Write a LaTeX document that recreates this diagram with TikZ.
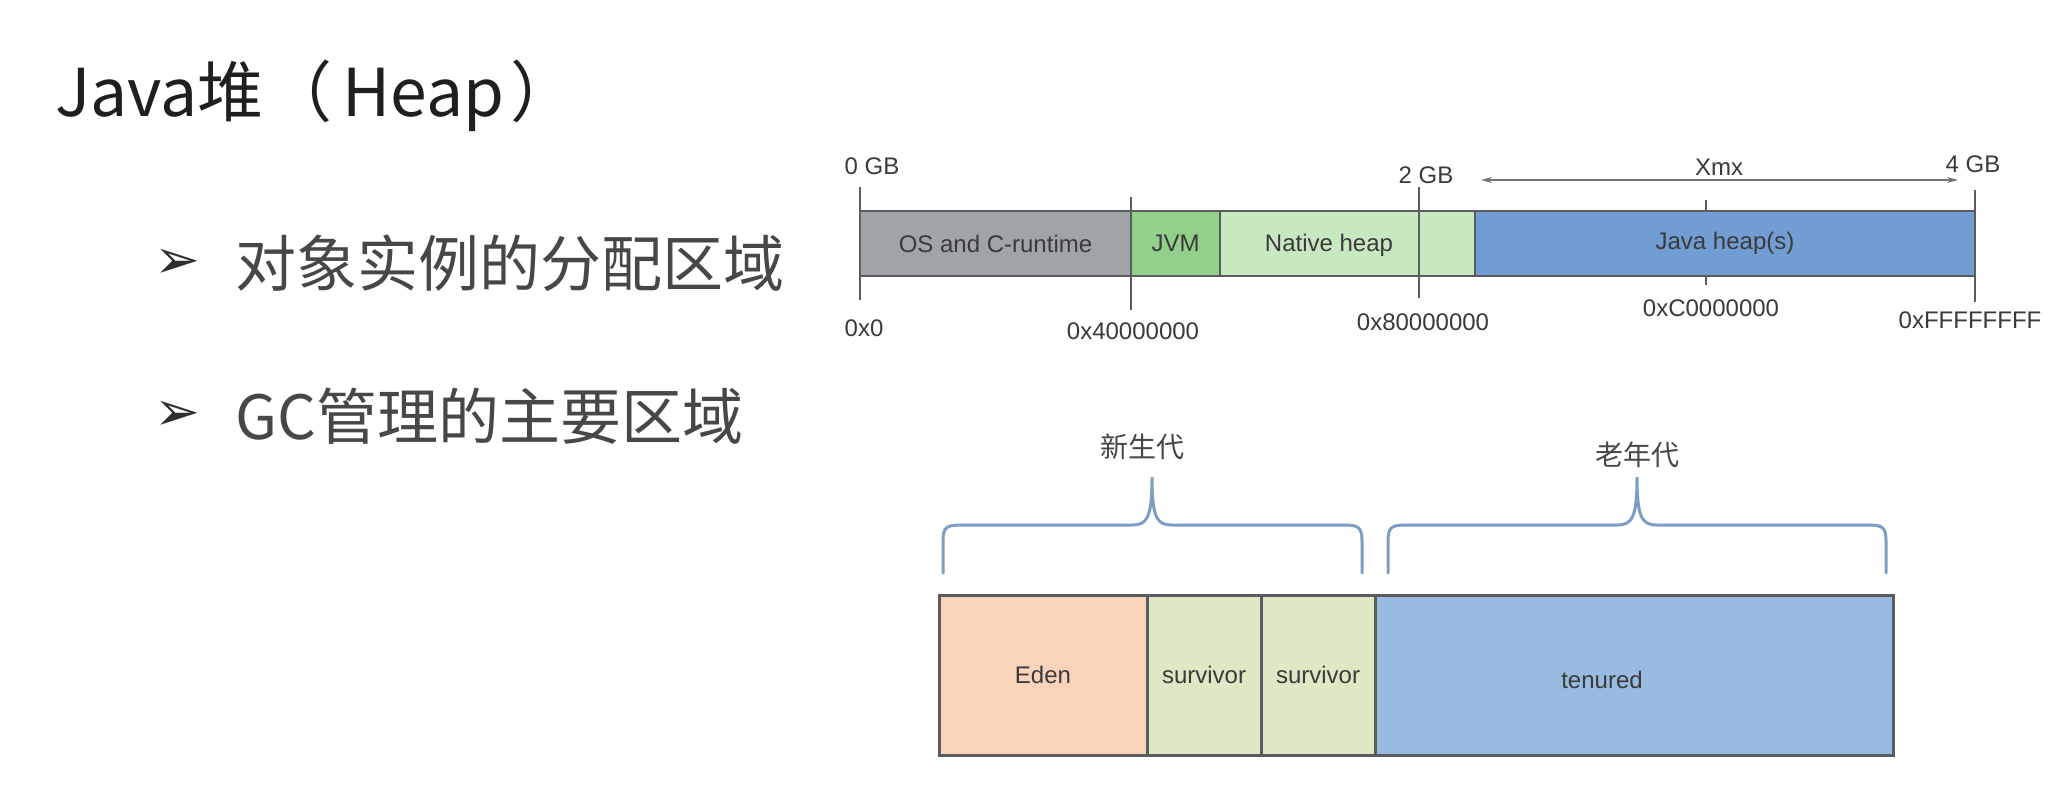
\documentclass[tikz,border=0pt]{standalone}
\usepackage{fontspec}
\setmainfont{Liberation Sans}
\newfontfamily\cjk{Noto Sans CJK SC}
\newfontfamily\simboli{DejaVu Sans}
\usetikzlibrary{arrows.meta}

\definecolor{grigioos}{HTML}{A0A3A8}
\definecolor{verdejvm}{HTML}{93D08C}
\definecolor{verdenativo}{HTML}{C8E8C2}
\definecolor{bluejava}{HTML}{729DD2}
\definecolor{pesca}{HTML}{F9D3BA}
\definecolor{survverde}{HTML}{DEE8C4}
\definecolor{azzurro}{HTML}{98BBE1}
\definecolor{graffablu}{HTML}{7E9DC2}
\definecolor{bordo}{HTML}{5A5C60}
\definecolor{testo}{HTML}{3A3A3A}

\begin{document}
\begin{tikzpicture}[x=1pt, y=-1pt]
    % Definizione stili
    \tikzstyle{titolo}=[inner sep=0pt, text=black!88, font=\cjk\fontsize{66}{80}\selectfont]
    \tikzstyle{voce}=[inner sep=0pt, text=black!72, font=\cjk\fontsize{61}{72}\selectfont]
    \tikzstyle{punto}=[inner sep=0pt, text=black!82, font=\simboli\fontsize{55}{60}\selectfont]
    \tikzstyle{segmento}=[draw=bordo, line width=2pt, inner sep=0pt, minimum height=65pt, text=testo, font=\fontsize{24}{28}\selectfont]
    \tikzstyle{regione}=[draw=bordo, line width=3pt, inner sep=0pt, minimum height=160pt, text=testo, font=\fontsize{24}{28}\selectfont]
    \tikzstyle{etichetta}=[inner sep=0pt, text=testo, font=\fontsize{24}{28}\selectfont]
    \tikzstyle{gen}=[inner sep=0pt, text=black!72, font=\cjk\fontsize{28}{32}\selectfont]
    \tikzstyle{tacca}=[draw=bordo, line width=2pt]
    \tikzstyle{freccia}=[<->, >={Stealth[length=11pt, width=6pt]}, draw=black!55, line width=1.5pt]
    \tikzstyle{graffa}=[draw=graffablu, line width=3pt, line cap=round]

    % Sfondo
    \fill[white] (0,0) rectangle (2050,787);
    \useasboundingbox (0,0) rectangle (2050,787);

    % Titolo ed elenco
    \node[titolo, anchor=base west] (titolo) at (55,116) {Java堆\hspace{3pt}（\hspace{10pt}Heap\hspace{6pt}）};
    \node[punto] (punto1) at (178,264) {➢};
    \node[voce, anchor=west] (voce1) at (235,263) {对象实例的分配区域};
    \node[punto] (punto2) at (178,416) {➢};
    \node[voce, anchor=west] (voce2) at (235,416) {GC管理的主要区域};

    % Tacca centrale (sotto la barra)
    \draw[tacca] (1706,200) -- (1706,285);

    % Barra della memoria
    \node[segmento, fill=grigioos, minimum width=271pt] (os) at (995.5,243.5) {OS and C-runtime};
    \node[segmento, fill=verdejvm, minimum width=89pt] (jvm) at (1175.5,243.5) {JVM};
    \node[segmento, fill=verdenativo, minimum width=255pt] (native) at (1347.5,243.5) {};
    \node[etichetta] (native_txt) at (1329,245) {Native heap};
    \node[segmento, fill=bluejava, minimum width=500pt] (javaheap) at (1725,243.5) {Java heap(s)};

    % Tacche
    \draw[tacca] (860,187) -- (860,300);
    \draw[tacca] (1131,197) -- (1131,310);
    \draw[tacca] (1419,187) -- (1419,298);
    \draw[tacca] (1975,190) -- (1975,302);

    % Etichette sopra e sotto la barra
    \node[etichetta] (gb0) at (872,166) {0 GB};
    \node[etichetta] (gb2) at (1426,175) {2 GB};
    \node[etichetta] (gb4) at (1973,164) {4 GB};
    \node[etichetta] (xmx) at (1719,167) {Xmx};
    \node[etichetta] (ind0) at (864,328) {0x0};
    \node[etichetta] (ind4) at (1133,331) {0x40000000};
    \node[etichetta] (ind8) at (1423,322) {0x80000000};
    \node[etichetta] (indC) at (1711,308) {0xC0000000};
    \node[etichetta] (indF) at (1970,320) {0xFFFFFFFF};

    % Freccia Xmx
    \coordinate (xmx_sx) at (1481,180);
    \coordinate (xmx_dx) at (1958,180);
    \draw[freccia] (xmx_sx) -- (xmx_dx);

    % Generazioni
    \node[regione, fill=pesca, minimum width=208pt] (eden) at (1043,675) {Eden};
    \node[regione, fill=survverde, minimum width=114pt] (surv1) at (1204,675) {survivor};
    \node[regione, fill=survverde, minimum width=114pt] (surv2) at (1318,675) {survivor};
    \node[regione, fill=azzurro, minimum width=518pt] (tenured) at (1634,675) {};
    \node[etichetta] (tenured_txt) at (1602,680) {tenured};

    % Graffe
    \draw[graffa] (943,573) -- (943,542) .. controls (943,527) and (946,525) .. (962,525) -- (1132,525)
        .. controls (1147,525) and (1152,518) .. (1152,477)
        .. controls (1152,518) and (1157,525) .. (1172,525) -- (1343,525)
        .. controls (1359,525) and (1362,527) .. (1362,542) -- (1362,573);
    \draw[graffa] (1388,573) -- (1388,542) .. controls (1388,527) and (1391,525) .. (1407,525) -- (1617,525)
        .. controls (1632,525) and (1637,518) .. (1637,477)
        .. controls (1637,518) and (1642,525) .. (1657,525) -- (1867,525)
        .. controls (1883,525) and (1886,527) .. (1886,542) -- (1886,573);
    \node[gen] (giovane) at (1142,447) {新生代};
    \node[gen] (vecchia) at (1637,455) {老年代};
\end{tikzpicture}
\end{document}
